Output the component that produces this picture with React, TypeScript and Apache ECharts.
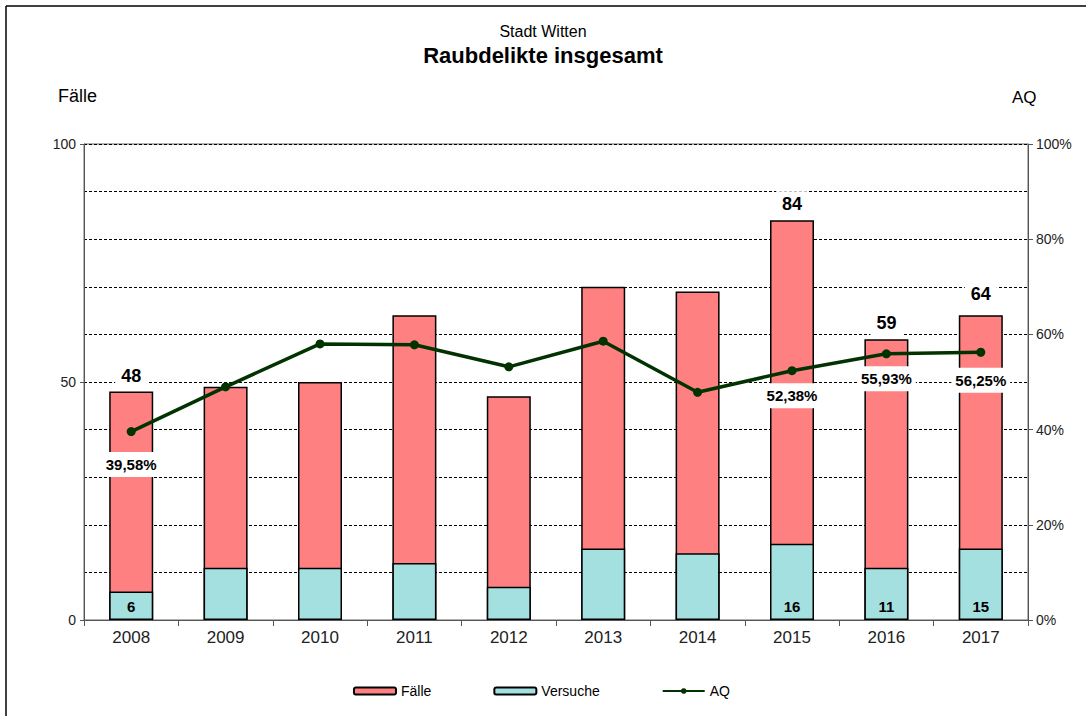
import React, { useEffect, useRef } from "react";
import * as echarts from "echarts";

const years = ["2008", "2009", "2010", "2011", "2012", "2013", "2014", "2015", "2016", "2017"];
const faelle = [48, 49, 50, 64, 47, 70, 69, 84, 59, 64];
const versuche = [6, 11, 11, 12, 7, 15, 14, 16, 11, 15];
const aq = [39.58, 48.98, 58.0, 57.81, 53.19, 58.57, 47.83, 52.38, 55.93, 56.25];
const labelledIdx = [0, 7, 8, 9];
const leftTicks = [0, 50, 100];
const rightTicks = [0, 20, 40, 60, 80, 100];

const FONT = "Arial, 'Liberation Sans', sans-serif";

export default function App() {
  const ref = useRef<HTMLDivElement>(null);
  useEffect(() => {
    if (!ref.current) return;
    const chart = echarts.init(ref.current, null, { renderer: "svg" });
    const aqOffsets: Record<number, number[]> = { 0: [0, 8], 9: [0, 3] };
    const faelleOffsets: Record<number, number[]> = { 9: [0, -5] };
    chart.setOption({
      animation: false,
      backgroundColor: "#fff",
      textStyle: { fontFamily: FONT },
      title: [
        { text: "Stadt Witten", left: "center", top: 18, textStyle: { fontSize: 16, fontWeight: "normal", color: "#000", fontFamily: FONT } },
        { text: "Raubdelikte insgesamt", left: "center", top: 39, textStyle: { fontSize: 22, fontWeight: "bold", color: "#000", fontFamily: FONT } },
      ],
      graphic: [
        { type: "line", shape: { x1: 6, y1: 6, x2: 1086, y2: 6 }, style: { stroke: "#000", lineWidth: 1.5 } },
        { type: "line", shape: { x1: 6, y1: 6, x2: 6, y2: 716 }, style: { stroke: "#000", lineWidth: 1.5 } },
        { type: "text", left: 58, top: 87, style: { text: "Fälle", fontSize: 18, fontFamily: FONT, fill: "#000" } },
        { type: "text", left: 1012, top: 89, style: { text: "AQ", fontSize: 17, fontFamily: FONT, fill: "#000" } },
      ],
      legend: {
        left: 348,
        top: 679,
        itemWidth: 42,
        itemHeight: 7,
        itemGap: 62,
        textStyle: { fontSize: 14, color: "#000", fontFamily: FONT },
        data: ["Fälle", "Versuche", "AQ"],
      },
      grid: { left: 84, right: 58, top: 144, bottom: 96, show: true, borderColor: "#666", borderWidth: 1 },
      xAxis: {
        type: "category",
        data: years,
        axisLine: { lineStyle: { color: "#555", width: 1 } },
        axisTick: { show: true, length: 6, lineStyle: { color: "#555" } },
        axisLabel: { fontSize: 17, color: "#222", margin: 9, fontFamily: FONT },
      },
      yAxis: [
        {
          type: "value",
          min: leftTicks[0],
          max: leftTicks[leftTicks.length - 1],
          interval: 50,
          axisLine: { show: true, lineStyle: { color: "#555" } },
          axisTick: { show: true, length: 4, lineStyle: { color: "#555" } },
          axisLabel: { fontSize: 14, color: "#222", margin: 8, fontFamily: FONT },
          splitLine: { show: true, lineStyle: { color: "#000", type: [3, 2], width: 1 } },
          minorTick: { show: false, splitNumber: 5 },
          minorSplitLine: { show: true, lineStyle: { color: "#000", type: [3, 2], width: 1 } },
        },
        {
          type: "value",
          position: "right",
          min: rightTicks[0],
          max: rightTicks[rightTicks.length - 1],
          interval: 20,
          axisLine: { show: true, lineStyle: { color: "#555" } },
          axisTick: { show: true, length: 5, lineStyle: { color: "#555" } },
          axisLabel: { fontSize: 14, color: "#222", margin: 8, formatter: "{value}%", fontFamily: FONT },
          splitLine: { show: false },
        },
      ],
      series: [
        {
          name: "Fälle",
          type: "bar",
          barWidth: 44,
          itemStyle: { color: "#FF8080", borderColor: "#000", borderWidth: 1.5 },
          label: {
            show: false,
            position: "top",
            distance: 3,
            fontSize: 18,
            fontWeight: "bold",
            color: "#000",
            backgroundColor: "#fff",
            padding: [4, 6],
            fontFamily: FONT,
          },
          data: faelle.map((v, i) => ({
            value: v,
            label: { show: labelledIdx.includes(i), offset: faelleOffsets[i] || [0, 0] },
          })),
        },
        {
          name: "Versuche",
          type: "bar",
          barWidth: 44,
          barGap: "-100%",
          itemStyle: { color: "#A4E0E0", borderColor: "#000", borderWidth: 1.5 },
          label: {
            show: false,
            position: "insideBottom",
            distance: 6,
            fontSize: 15,
            fontWeight: "bold",
            color: "#000",
            fontFamily: FONT,
          },
          data: versuche.map((v, i) => ({ value: v, label: { show: labelledIdx.includes(i) } })),
        },
        {
          name: "AQ",
          type: "line",
          yAxisIndex: 1,
          symbol: "circle",
          symbolSize: 9,
          color: "#003300",
          lineStyle: { color: "#003300", width: 3.5 },
          itemStyle: { color: "#003300" },
          z: 5,
          label: {
            show: false,
            position: "bottom",
            distance: 8,
            fontSize: 15,
            fontWeight: "bold",
            color: "#000",
            backgroundColor: "#fff",
            padding: [5, 4],
            fontFamily: FONT,
            formatter: (p: any) => Number(p.value).toFixed(2).replace(".", ",") + "%",
          },
          data: aq.map((v, i) => ({
            value: v,
            label: { show: labelledIdx.includes(i), offset: aqOffsets[i] || [0, 0] },
          })),
        },
      ],
    });
    return () => chart.dispose();
  }, []);
  return <div ref={ref} style={{ position: "absolute", left: 0, top: 0, width: 1086, height: 716 }} />;
}
